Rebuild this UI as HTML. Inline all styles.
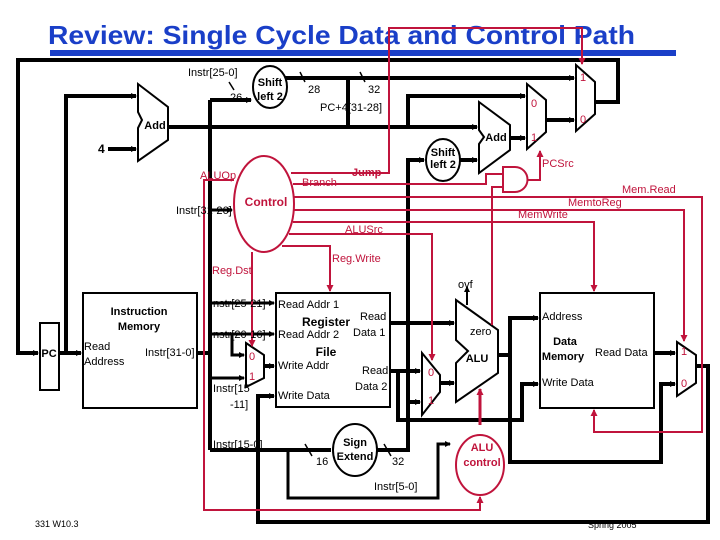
<!DOCTYPE html>
<html><head><meta charset="utf-8"><style>
body{margin:0;background:#fff}
svg{display:block}
text{font-family:"Liberation Sans",sans-serif}
.r{fill:#c0143c}
</style></head><body>
<svg width="720" height="540" viewBox="0 0 720 540" xmlns="http://www.w3.org/2000/svg">
<defs>
<marker id="a" markerWidth="6" markerHeight="6" refX="5" refY="3" orient="auto" markerUnits="userSpaceOnUse"><path d="M0,0L6,3L0,6z" fill="#000"/></marker>
<marker id="ar" markerWidth="7" markerHeight="7" refX="6" refY="3.5" orient="auto" markerUnits="userSpaceOnUse"><path d="M0,0L7,3.5L0,7z" fill="#c0143c"/></marker>
</defs>
<text x="48" y="44" font-size="26" font-weight="bold" fill="#1a3fc8" textLength="587" lengthAdjust="spacingAndGlyphs">Review:  Single Cycle Data and Control Path</text>
<rect x="50" y="50" width="626" height="6" fill="#1a3fc8"/>

<g fill="none" stroke="#000" stroke-width="4">
<polyline points="595,102 618,102 618,60 18,60 18,353 38,353" marker-end="url(#a)"/>
<line x1="59" y1="353" x2="81" y2="353" marker-end="url(#a)"/>
<polyline points="66,353 66,96 136,96" marker-end="url(#a)"/>
<line x1="108" y1="149" x2="136" y2="149" marker-end="url(#a)"/>
<line x1="168" y1="127" x2="477" y2="127" marker-end="url(#a)"/>
<polyline points="408,127 408,96 525,96" marker-end="url(#a)"/>
<polyline points="348,127 348,78"/>
<line x1="285" y1="78" x2="574" y2="78" marker-end="url(#a)"/>
<polyline points="197,353 210,353"/>
<line x1="210" y1="100" x2="210" y2="450"/>
<line x1="210" y1="100" x2="251" y2="100" marker-end="url(#a)"/>
<line x1="510" y1="138" x2="525" y2="138" marker-end="url(#a)"/>
<line x1="546" y1="120" x2="574" y2="120" marker-end="url(#a)"/>
<line x1="460" y1="160" x2="477" y2="160" marker-end="url(#a)"/>
<polyline points="377,450 408,450 408,160 424,160" marker-end="url(#a)"/>
<line x1="408" y1="402" x2="420" y2="402" marker-end="url(#a)"/>
<line x1="210" y1="450" x2="331" y2="450"/>
<polyline points="288,450 288,498 438,498 438,444 450,444" stroke-width="3" marker-end="url(#a)"/>
<polyline points="390,323 454,323" marker-end="url(#a)"/>
<polyline points="390,371 420,371" marker-end="url(#a)"/>
<polyline points="398,371 398,420 522,420 522,384 538,384" marker-end="url(#a)"/>
<line x1="440" y1="383" x2="454" y2="383" marker-end="url(#a)"/>
<polyline points="498,355 510,355 510,318 538,318" marker-end="url(#a)"/>
<polyline points="510,355 510,462 661,462 661,384 675,384" marker-end="url(#a)"/>
<line x1="654" y1="353" x2="675" y2="353" marker-end="url(#a)"/>
<polyline points="696,366 708,366 708,522 258,522 258,396 274,396" marker-end="url(#a)"/>
<line x1="264" y1="366" x2="274" y2="366" marker-end="url(#a)"/>
</g>
<g fill="none" stroke="#000" stroke-width="3">
<line x1="210" y1="210" x2="232" y2="210" marker-end="url(#a)"/>
<line x1="210" y1="303" x2="274" y2="303" marker-end="url(#a)"/>
<line x1="210" y1="334" x2="274" y2="334" marker-end="url(#a)"/>
<polyline points="232,334 232,355 244,355" marker-end="url(#a)"/>
<line x1="210" y1="378" x2="244" y2="378" marker-end="url(#a)"/>
<line x1="467" y1="305" x2="467" y2="287" stroke-width="2" marker-end="url(#a)"/>
<line x1="480" y1="425" x2="480" y2="389" stroke="#c0143c" marker-end="url(#ar)"/>
</g>
<g stroke="#000" stroke-width="1.5">
<line x1="229" y1="82" x2="234" y2="90"/><line x1="300" y1="72" x2="305" y2="82"/><line x1="360" y1="72" x2="365" y2="82"/>
<line x1="305" y1="444" x2="312" y2="456"/><line x1="384" y1="444" x2="391" y2="456"/>
</g>

<g fill="#fff" stroke="#000" stroke-width="2">
<rect x="40" y="323" width="19" height="67"/>
<rect x="83" y="293" width="114" height="115"/>
<rect x="276" y="293" width="114" height="114"/>
<rect x="540" y="293" width="114" height="115"/>
<path d="M138,84L168,107L168,140L138,161L138,128L142,120L138,112Z"/>
<path d="M479,102L510,125L510,150L479,173L479,144L484,137L479,130Z"/>
<path d="M456,300L498,330L498,373L456,402L456,363L468,351L456,340Z"/>
<path d="M527,84L546,100L546,132L527,149Z"/>
<path d="M576,65L595,82L595,114L576,131Z"/>
<path d="M246,343L264,355L264,378L246,387Z"/>
<path d="M422,353L440,375L440,392L422,415Z"/>
<path d="M677,342L696,355L696,383L677,396Z"/>
<ellipse cx="270" cy="87" rx="17" ry="21"/>
<ellipse cx="443" cy="160" rx="17" ry="21"/>
<ellipse cx="355" cy="450" rx="22" ry="26"/>
</g>

<g fill="none" stroke="#c0143c" stroke-width="2">
<polyline points="291,173 389,173 389,28 582,28 582,64" marker-end="url(#ar)"/>
<polyline points="293,184 486,184 486,174 503,174"/>
<polyline points="492,325 492,187 503,187"/>
<path d="M503,167L515,167A12,12 0 0 1 515,192L503,192Z" fill="#fff"/>
<polyline points="527,180 540,180 540,151" marker-end="url(#ar)"/>
<polyline points="294,197 702,197 702,432 594,432 594,410" marker-end="url(#ar)"/>
<polyline points="294,210 684,210 684,341" marker-end="url(#ar)"/>
<polyline points="293,222 594,222 594,291" marker-end="url(#ar)"/>
<polyline points="289,234 432,234 432,360" marker-end="url(#ar)"/>
<polyline points="282,246 330,246 330,291" marker-end="url(#ar)"/>
<polyline points="252,252 252,346" marker-end="url(#ar)"/>
<polyline points="234,180 204,180 204,510 480,510 480,497" marker-end="url(#ar)"/>
<ellipse cx="264" cy="204" rx="30" ry="48" fill="#fff"/>
<ellipse cx="480" cy="465" rx="24" ry="30" fill="#fff"/>
</g>

<g font-size="11">
<text x="188" y="76">Instr[25-0]</text>
<text x="230" y="101">26</text>
<text x="308" y="93">28</text>
<text x="368" y="93">32</text>
<text x="320" y="111">PC+4[31-28]</text>
<text x="98" y="153" font-weight="bold" font-size="12">4</text>
<text x="176" y="214">Instr[31-26]</text>
<text x="213" y="307">nstr[25-21]</text>
<text x="213" y="338">nstr[20-16]</text>
<text x="213" y="392">Instr[15</text>
<text x="230" y="408">-11]</text>
<text x="213" y="448">Instr[15-0]</text>
<text x="316" y="465">16</text>
<text x="392" y="465">32</text>
<text x="374" y="490">Instr[5-0]</text>
<text x="84" y="350">Read</text>
<text x="84" y="365">Address</text>
<text x="145" y="356">Instr[31-0]</text>
<text x="278" y="308">Read Addr 1</text>
<text x="278" y="338">Read Addr 2</text>
<text x="278" y="369">Write Addr</text>
<text x="278" y="399">Write Data</text>
<text x="360" y="320">Read</text>
<text x="353" y="336">Data 1</text>
<text x="362" y="374">Read</text>
<text x="355" y="390">Data 2</text>
<text x="470" y="335">zero</text>
<text x="458" y="288">ovf</text>
<text x="542" y="320">Address</text>
<text x="595" y="356">Read Data</text>
<text x="542" y="386">Write Data</text>
<text x="35" y="527" font-size="9">331  W10.3</text>
<text x="588" y="528" font-size="9">Spring 2005</text>
</g>
<g font-size="11" font-weight="bold" text-anchor="middle">
<text x="270" y="86">Shift</text><text x="270" y="100">left 2</text>
<text x="443" y="156">Shift</text><text x="443" y="168">left 2</text>
<text x="155" y="129">Add</text>
<text x="496" y="141">Add</text>
<text x="477" y="362">ALU</text>
<text x="49" y="357">PC</text>
<text x="139" y="315">Instruction</text>
<text x="139" y="330">Memory</text>
<text x="326" y="326" font-size="12">Register</text>
<text x="326" y="356" font-size="12">File</text>
<text x="565" y="345">Data</text>
<text x="563" y="360">Memory</text>
<text x="355" y="446">Sign</text>
<text x="355" y="460">Extend</text>
<text x="266" y="206" class="r" font-size="12">Control</text>
<text x="482" y="451" class="r">ALU</text>
<text x="482" y="466" class="r">control</text>
</g>
<g font-size="11" class="r">
<text x="200" y="179">ALUOp</text>
<text x="302" y="186">Branch</text>
<text x="352" y="176" font-weight="bold">Jump</text>
<text x="542" y="167">PCSrc</text>
<text x="622" y="193">Mem.Read</text>
<text x="568" y="206">MemtoReg</text>
<text x="518" y="218">MemWrite</text>
<text x="345" y="233">ALUSrc</text>
<text x="332" y="262">Reg.Write</text>
<text x="212" y="274">Reg.Dst</text>
<text x="531" y="107">0</text><text x="531" y="141">1</text>
<text x="580" y="81">1</text><text x="580" y="123">0</text>
<text x="249" y="360">0</text><text x="249" y="380">1</text>
<text x="428" y="376">0</text><text x="428" y="404">1</text>
<text x="681" y="355">1</text><text x="681" y="387">0</text>
</g>
</svg>
</body></html>
